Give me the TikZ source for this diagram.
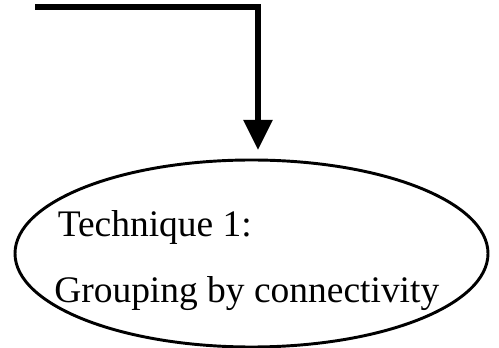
\documentclass[tikz,border=0pt]{standalone}
\usepackage{fontspec}
\setmainfont{Liberation Serif}
\usetikzlibrary{arrows.meta,shapes.geometric}
\tikzset{
  flow/.style={line width=4pt, -{Triangle[width=21pt,length=22.5pt]}},
  oval/.style={ellipse, draw, line width=2.2pt, minimum width=473*0.75pt, minimum height=187*0.75pt, inner sep=0pt},
  label/.style={anchor=base west, inner sep=0pt, font=\fontsize{28.1}{33}\selectfont}
}
\begin{document}
\begin{tikzpicture}[x=0.75pt,y=-0.75pt]
\useasboundingbox (0,0) rectangle (499,348);
\node[oval] (ell) at (251.5,253.5) {};
\coordinate (start) at (35,7);
\coordinate (tip) at (258,150);
\draw[flow] (start) -| (tip);
\node[label] (t1) at (57.5,237) {Technique 1:};
\node[label] (t2) at (54,303) {Grouping by connectivity};
\end{tikzpicture}
\end{document}
